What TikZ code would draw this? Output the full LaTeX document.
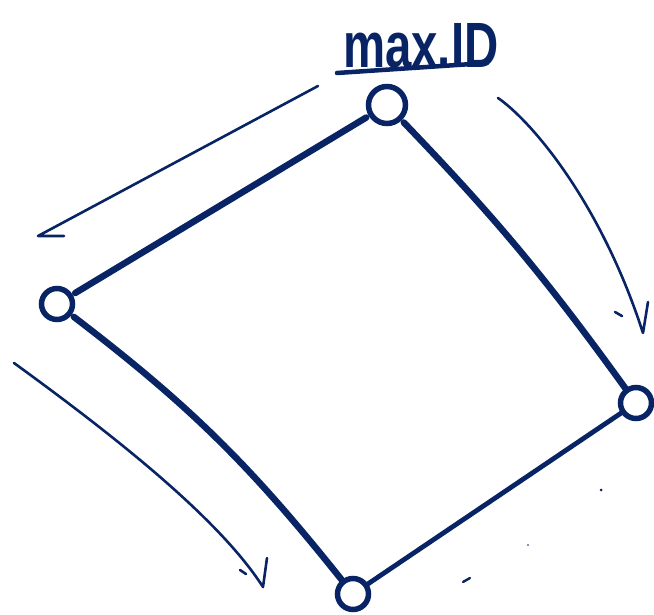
\documentclass[tikz,border=0pt]{standalone}
\usepackage{fontspec}
\setmainfont{Liberation Sans}
\definecolor{ink}{RGB}{8,36,100}
\tikzset{
  vert/.style={circle, draw=ink, line width=5.5pt, minimum size=31pt, inner sep=0pt},
  edgethick/.style={draw=ink, line width=6.5pt, line cap=round},
  edgemid/.style={draw=ink, line width=4.8pt, line cap=round},
  hint/.style={draw=ink, line width=2.6pt, line cap=round, line join=round},
  speck/.style={draw=ink, line width=2.4pt, line cap=round}
}
\begin{document}
\begin{tikzpicture}[x=1pt,y=-1pt]
\useasboundingbox (0,0) rectangle (654,615);
% vertices
\node[vert, minimum width=37pt, minimum height=30pt] (top) at (387,105) {};
\node[vert] (left) at (57,304) {};
\node[vert] (right) at (636,403) {};
\node[vert] (bot) at (353,594) {};
% edges
\draw[edgethick, shorten <=3pt, shorten >=3pt] (top) -- (left);
\draw[edgethick, shorten <=3pt] (top) to[bend left=4] (right);
\draw[edgethick, shorten <=3pt] (left) to[bend left=7] (bot);
\draw[edgemid] (right) -- (bot);
% label
\node[text=ink, inner sep=0pt, anchor=south west, xscale=0.74] (lbl) at (343,68) {\fontsize{64}{64}\selectfont\bfseries max.ID};
\coordinate (u1) at (337,73);
\coordinate (u2) at (487,63);
\draw[draw=ink, line width=4.5pt, line cap=round] (u1) -- (u2);
% hint arrows
\coordinate (a1s) at (318,86);
\coordinate (a1t) at (38,236);
\coordinate (a1b) at (64,236);
\draw[hint] (a1s) -- (a1t) -- (a1b);
\coordinate (a2s) at (498,98);
\coordinate (a2t) at (643,333);
\coordinate (a2b) at (648,302);
\coordinate (a2h) at (615,312);
\draw[hint] (a2s) .. controls (530,120) and (600,200) .. (a2t) -- (a2b);
\draw[hint] (a2h) -- (622,316);
\coordinate (a3s) at (14,363);
\coordinate (a3t) at (263,587);
\coordinate (a3b) at (267,558);
\coordinate (a3h) at (240,570);
\draw[hint] (a3s) .. controls (120,440) and (220,520) .. (a3t) -- (a3b);
\draw[hint] (a3h) -- (246,574);
% specks
\coordinate (s1) at (463,582);
\coordinate (s2) at (470,578);
\draw[speck] (s1) -- (s2);
\fill[ink] (601,490) circle (1.5pt);
\fill[ink] (528,545) circle (0.9pt);
\end{tikzpicture}
\end{document}
